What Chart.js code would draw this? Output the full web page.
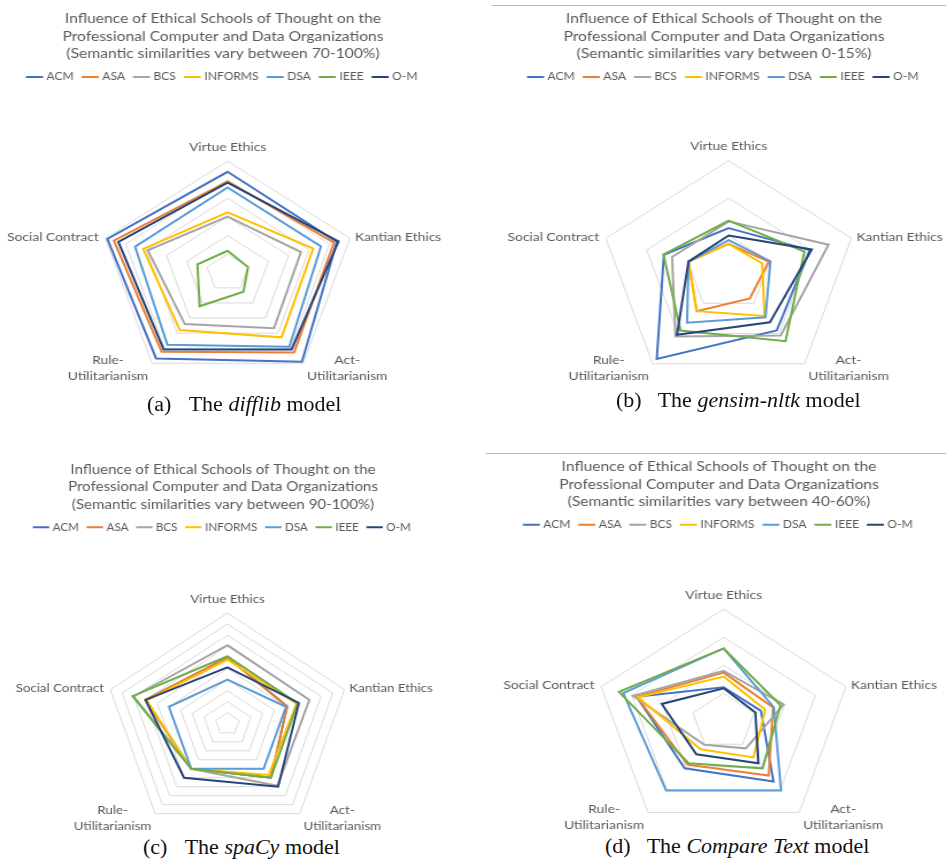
<!DOCTYPE html>
<html>
<head>
<meta charset="utf-8">
<script src="https://cdn.jsdelivr.net/npm/chart.js@4.4.1/dist/chart.umd.min.js"></script>
<style>
    body { margin: 0; width: 946px; height: 859px; overflow: hidden; background: #fff; position: relative; }
    .panel { position: absolute; transform-origin: 50% 0; }
    .rule { position: absolute; height: 0; border-top: 1px solid #b8b8b8; }
    .caption { position: absolute; font-family: "Liberation Serif", "Times New Roman", serif; font-size: 20px; line-height: 20px; color: #111; white-space: nowrap; transform: scaleX(1.1); transform-origin: 0 0; }
    .caption .tag { display: inline-block; width: 37.9px; }
</style>
</head>
<body>
<div class="rule" style="left:492px; top:5px; width:454px;"></div>
<div class="rule" style="left:486px; top:453px; width:460px;"></div>

<div class="caption" style="left:146.7px; top:394px;"><span class="tag">(a)</span>The <i>difflib</i> model</div>
<div class="caption" style="left:616.3px; top:390px;"><span class="tag">(b)</span>The <i>gensim-nltk</i> model</div>
<div class="caption" style="left:143.3px; top:836.6px;"><span class="tag">(c)</span>The <i>spaCy</i> model</div>
<div class="caption" style="left:604.7px; top:836px;"><span class="tag">(d)</span>The <i>Compare Text</i> model</div>

<script>
const axisLabels = ["Virtue Ethics", "Kantian Ethics", ["Act-", "Utilitarianism"], ["Rule-", "Utilitarianism"], "Social Contract"];
const organizations = ["ACM", "ASA", "BCS", "INFORMS", "DSA", "IEEE", "O-M"];

// rows follow organizations, columns follow axisLabels
const difflibScores = [
    [0.971, 0.968, 0.995, 0.984, 0.995],
    [0.945, 0.961, 0.964, 0.962, 0.979],
    [0.851, 0.880, 0.884, 0.870, 0.896],
    [0.862, 0.910, 0.914, 0.890, 0.907],
    [0.929, 0.929, 0.945, 0.939, 0.927],
    [0.759, 0.750, 0.763, 0.811, 0.774],
    [0.942, 0.972, 0.954, 0.954, 0.968]
];
const gensimScores = [
    [0.060, 0.099, 0.095, 0.142, 0.079],
    [0.039, 0.049, 0.042, 0.063, 0.049],
    [0.069, 0.122, 0.103, 0.105, 0.069],
    [0.039, 0.041, 0.071, 0.063, 0.049],
    [0.044, 0.051, 0.073, 0.082, 0.049],
    [0.070, 0.0925, 0.1125, 0.095, 0.0795],
    [0.050, 0.1015, 0.0815, 0.102, 0.049]
];
const spacyScores = [
    [0.960, 0.951, 0.960, 0.950, 0.970],
    [0.960, 0.951, 0.960, 0.950, 0.970],
    [0.971, 0.970, 0.969, 0.950, 0.980],
    [0.958, 0.959, 0.957, 0.950, 0.969],
    [0.940, 0.950, 0.950, 0.950, 0.950],
    [0.961, 0.960, 0.960, 0.950, 0.981],
    [0.951, 0.961, 0.970, 0.960, 0.970]
];
const compareTextScores = [
    [0.461, 0.461, 0.532, 0.503, 0.542],
    [0.487, 0.481, 0.519, 0.495, 0.542],
    [0.490, 0.498, 0.459, 0.451, 0.548],
    [0.480, 0.468, 0.479, 0.461, 0.540],
    [0.530, 0.482, 0.552, 0.552, 0.564],
    [0.530, 0.493, 0.503, 0.492, 0.571],
    [0.459, 0.452, 0.492, 0.472, 0.501]
];

const difflibTicks = [0.70, 0.75, 0.80, 0.85, 0.90, 0.95, 1.00];
const gensimTicks = [0, 0.05, 0.10, 0.15];
const spacyTicks = [0.90, 0.91, 0.92, 0.93, 0.94, 0.95, 0.96, 0.97, 0.98, 0.99, 1.00];
const compareTextTicks = [0.40, 0.45, 0.50, 0.55, 0.60];

const orgColors = ["#4472C4", "#ED7D31", "#A5A5A5", "#FFC000", "#5B9BD5", "#70AD47", "#264478"];

const FONT = "Lato";
const TEXT_COLOR = "#595959";
const PANEL_WIDTH = 390;
const RADAR_SHIFT = 4;

const panels = [
    { range: "70-100%", scores: difflibScores, ticks: difflibTicks, cx: 227.5, cy: 272.8, r: 111.8, stretch: 1.15, top: 0, height: 395, titleTop: 10.25 },
    { range: "0-15%", scores: gensimScores, ticks: gensimTicks, cx: 728.5, cy: 273, r: 112.3, stretch: 1.15, top: 0, height: 395, titleTop: 10.25 },
    { range: "90-100%", scores: spacyScores, ticks: spacyTicks, cx: 227.7, cy: 723.9, r: 110.9, stretch: 1.11, top: 450, height: 385, titleTop: 10.55 },
    { range: "40-60%", scores: compareTextScores, ticks: compareTextTicks, cx: 723.3, cy: 721.5, r: 112.4, stretch: 1.145, top: 450, height: 385, titleTop: 7.95 }
];

const axisLabelPlugin = {
    id: "axisLabels",
    afterDraw(chart) {
        const scale = chart.scales.r;
        const ctx = chart.ctx;
        ctx.save();
        ctx.font = "12px " + FONT;
        ctx.fillStyle = TEXT_COLOR;
        ctx.textBaseline = "middle";
        axisLabels.forEach((label, i) => {
            const p = scale.getPointPosition(i, scale.drawingArea);
            let x = p.x;
            let y = p.y - 1.5;
            let align = "center";
            if (i === 0) {
                y = p.y - 14.2;
            } else if (i === 1) {
                x = p.x + 4.4;
                align = "left";
            } else if (i === 4) {
                x = p.x - 5.7;
                align = "right";
            } else {
                x = p.x + (i === 2 ? 38.3 : -38.3);
                y = p.y - 3.4;
            }
            ctx.textAlign = align;
            [].concat(label).forEach((line, j) => ctx.fillText(line, x, y + j * 16));
        });
        ctx.restore();
    }
};

function generateRadarChart(canvas, panel) {
    return new Chart(canvas.getContext('2d'), {
        type: 'radar',
        data: {
            labels: axisLabels,
            datasets: organizations.map((name, i) => ({
                label: name,
                data: panel.scores[i],
                borderColor: orgColors[i],
                backgroundColor: orgColors[i],
                borderWidth: 2,
                pointRadius: 0,
                fill: false,
                order: organizations.length - i
            }))
        },
        options: {
            responsive: true,
            maintainAspectRatio: false,
            animation: false,
            devicePixelRatio: 1,
            plugins: {
                title: {
                    display: true,
                    text: [
                        "Influence of Ethical Schools of Thought on the",
                        "Professional Computer and Data Organizations",
                        "(Semantic similarities vary between " + panel.range + ")"
                    ],
                    color: TEXT_COLOR,
                    font: { family: FONT, size: 13.6, weight: 'normal', lineHeight: 1.287 },
                    padding: { top: panel.titleTop, bottom: 0 }
                },
                legend: {
                    position: 'top',
                    labels: {
                        color: TEXT_COLOR,
                        font: { family: FONT, size: 10.5 },
                        usePointStyle: true,
                        pointStyle: 'line',
                        padding: 9,
                        sort: (a, b) => a.datasetIndex - b.datasetIndex
                    }
                },
                tooltip: { enabled: false }
            },
            scales: {
                r: {
                    min: panel.ticks[0],
                    max: panel.ticks[panel.ticks.length - 1],
                    afterBuildTicks: function(scale) {
                        scale.ticks = panel.ticks.map(v => ({ value: v }));
                    },
                    afterFit: function(scale) {
                        scale.xCenter = scale.chart.width / 2 + RADAR_SHIFT;
                        scale.yCenter = panel.cy - panel.top;
                        scale.drawingArea = panel.r;
                    },
                    ticks: { display: false },
                    pointLabels: { display: false },
                    angleLines: { display: false },
                    grid: { color: "#D9D9D9", lineWidth: 1 }
                }
            }
        },
        plugins: [axisLabelPlugin]
    });
}

for (const panel of panels) {
    const box = document.createElement("div");
    box.className = "panel";
    box.style.left = (panel.cx - PANEL_WIDTH / 2 - RADAR_SHIFT * panel.stretch) + "px";
    box.style.top = panel.top + "px";
    box.style.width = PANEL_WIDTH + "px";
    box.style.height = panel.height + "px";
    box.style.transform = "scaleX(" + panel.stretch + ")";
    const canvas = document.createElement("canvas");
    box.appendChild(canvas);
    document.body.insertBefore(box, document.body.firstChild);
    generateRadarChart(canvas, panel);
}
</script>
</body>
</html>
